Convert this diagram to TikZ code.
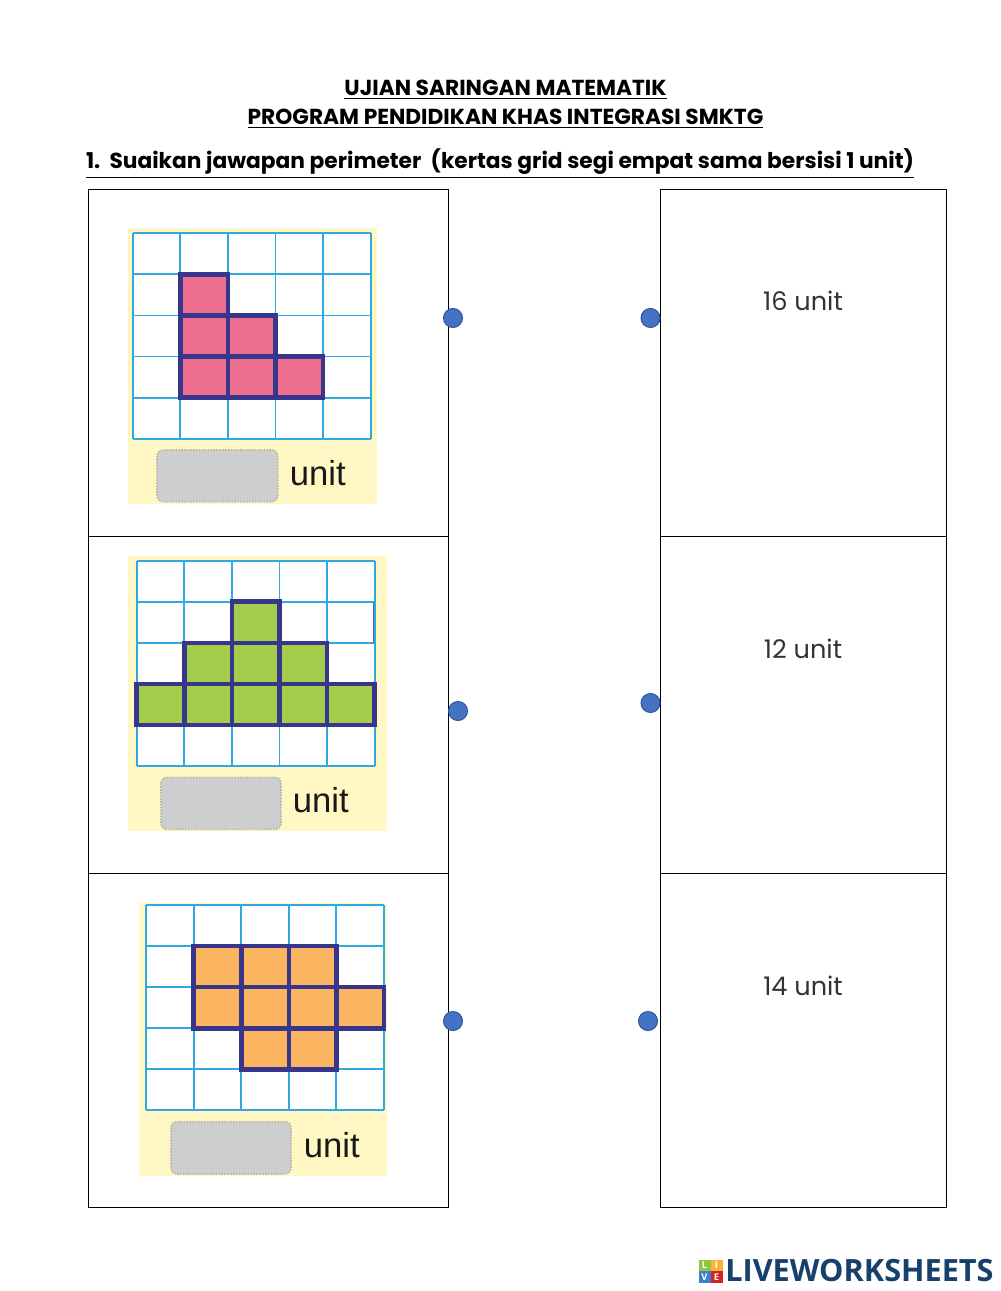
\documentclass[tikz,border=0pt]{standalone}
\usepackage{fontspec}
\setmainfont{Poppins}
\setsansfont{Liberation Sans}
\newfontfamily\logofont{Open Sans}
\usetikzlibrary{positioning}
\definecolor{gridblue}{HTML}{2FA9DF}
\definecolor{navy}{HTML}{37368C}
\definecolor{paper}{HTML}{FFF8C4}
\definecolor{slot}{HTML}{CCCED0}
\definecolor{slotedge}{HTML}{BDB8A6}
\definecolor{pinkcell}{HTML}{EE6E8F}
\definecolor{greencell}{HTML}{A4CD4C}
\definecolor{orangecell}{HTML}{FBB45F}
\definecolor{dotblue}{HTML}{4472C4}
\definecolor{dotedge}{HTML}{2F5597}
\definecolor{logoblue}{HTML}{17406D}
\definecolor{tilegreen}{HTML}{8DC63F}
\definecolor{tileorange}{HTML}{F9B233}
\definecolor{tileblue}{HTML}{3F7FD0}
\definecolor{tilered}{HTML}{D2232A}
\newcommand{\px}{*0.75pt}
\tikzstyle{card}    = [draw, line width=1\px]
\tikzstyle{dot}     = [draw=dotedge, fill=dotblue, circle, line width=1\px, inner sep=0pt, minimum size=19\px]
\tikzstyle{answer}  = [font=\fontsize{19.2}{22}\selectfont, text=black!80]
\tikzstyle{heading} = [font=\fontsize{16.3}{19}\selectfont\bfseries, inner sep=0pt, anchor=base]
\tikzstyle{gridline}= [draw=gridblue, line width=1.9\px]
\tikzstyle{cell}    = [draw=navy, line width=4.6\px, line join=miter]
\tikzstyle{slotbox} = [draw=slotedge, densely dotted, fill=slot, line width=1.6\px, rounded corners=6\px]
\tikzstyle{unitlabel} = [font=\sffamily\fontsize{26}{28}\selectfont, text=black!90, inner sep=0pt, anchor=base west]
\tikzstyle{tile}    = [minimum size=12\px, inner sep=0pt, text=white, font=\logofont\bfseries\fontsize{7}{8}\selectfont]
% #1 paper x1, #2 paper y1, #3 paper x2, #4 paper y2, #5 grid x, #6 grid y, #7 colour, #8 cells
\newcommand{\gridpanel}[8]{
	\fill[paper] (#1,#2) rectangle (#3,#4);
	\begin{scope}[shift={(#5,#6)}]
		\fill[white] (0,0) rectangle (238,205.4);
		\foreach \i in {0,...,5} {
			\draw[gridline] (\i*47.6,0) -- (\i*47.6,205.4);
			\draw[gridline] (0,\i*41.08) -- (238,\i*41.08);
		}
		\foreach \c/\r in {#8} {
			\draw[cell, fill=#7] (\c*47.6,\r*41.08) rectangle ++(47.6,41.08);
		}
	\end{scope}
}
\begin{document}
\begin{tikzpicture}[x=0.75pt,y=-0.75pt]
	\useasboundingbox (0,0) rectangle (1000,1291);
	\fill[white] (0,0) rectangle (1000,1291);

	% title
	\node[heading] (Title)    at (505.5,96)  {\underline{UJIAN SARINGAN MATEMATIK}};
	\node[heading] (Program)  at (505.5,125) {\underline{PROGRAM PENDIDIKAN KHAS INTEGRASI SMKTG}};
	\node[heading] (Question) at (500,169)   {\underline{1.\ \ Suaikan jawapan perimeter\ \ (kertas grid segi empat sama bersisi 1 unit)}};

	% table
	\draw[card] (88.5,189.5) rectangle (448,536.5);
	\draw[card] (88.5,536.5) rectangle (448,873.5);
	\draw[card] (88.5,873.5) rectangle (448,1207.5);
	\draw[card] (660,189.5) rectangle (946,536.5);
	\draw[card] (660,536.5) rectangle (946,873.5);
	\draw[card] (660,873.5) rectangle (946,1207.5);

	% panels
	\gridpanel{128.3}{228}{376.7}{504}{132.7}{233.3}{pinkcell}{1/1,1/2,2/2,1/3,2/3,3/3}
	\gridpanel{128}{556}{386.7}{831}{136.7}{560.7}{greencell}{2/1,1/2,2/2,3/2,0/3,1/3,2/3,3/3,4/3}
	\gridpanel{139}{903}{386.7}{1175.7}{146}{905}{orangecell}{1/1,2/1,3/1,1/2,2/2,3/2,4/2,2/3,3/3}
	\draw[navy!80, line width=1\px] (373.3,602) -- (373.3,643.3);

	\draw[slotbox] (157,450) rectangle (277.7,501.7);
	\draw[slotbox] (161,777.3) rectangle (281,829.3);
	\draw[slotbox] (171,1121.7) rectangle (291,1174);
	\node[unitlabel] (UnitA) at (289.5,485)   {unit};
	\node[unitlabel] (UnitB) at (292.5,812)   {unit};
	\node[unitlabel] (UnitC) at (303.5,1157)  {unit};

	% answers
	\node[answer] (AnswerA) at (803,301) {16 unit};
	\node[answer] (AnswerB) at (803,649) {12 unit};
	\node[answer] (AnswerC) at (803,986) {14 unit};

	% matching dots
	\node[dot] (DotA) at (453,318)  {};
	\node[dot] (DotB) at (458,711)  {};
	\node[dot] (DotC) at (453,1021) {};
	\node[dot] (DotD) at (650.5,318)  {};
	\node[dot] (DotE) at (650.5,703)  {};
	\node[dot] (DotF) at (648,1021) {};

	% logo
	\node[tile, fill=tilegreen]  (TileL) at (704.5,1265.5) {L};
	\node[tile, fill=tileorange] (TileI) at (716.5,1265.5) {I};
	\node[tile, fill=tileblue]   (TileV) at (704.5,1277) {V};
	\node[tile, fill=tilered]    (TileE) at (716.5,1277) {E};
	\node[font=\logofont\bfseries\fontsize{23}{26}\selectfont, text=logoblue, inner sep=0pt, anchor=base west] (Logo) at (725,1281) {LIVEWORKSHEETS};
\end{tikzpicture}
\end{document}
